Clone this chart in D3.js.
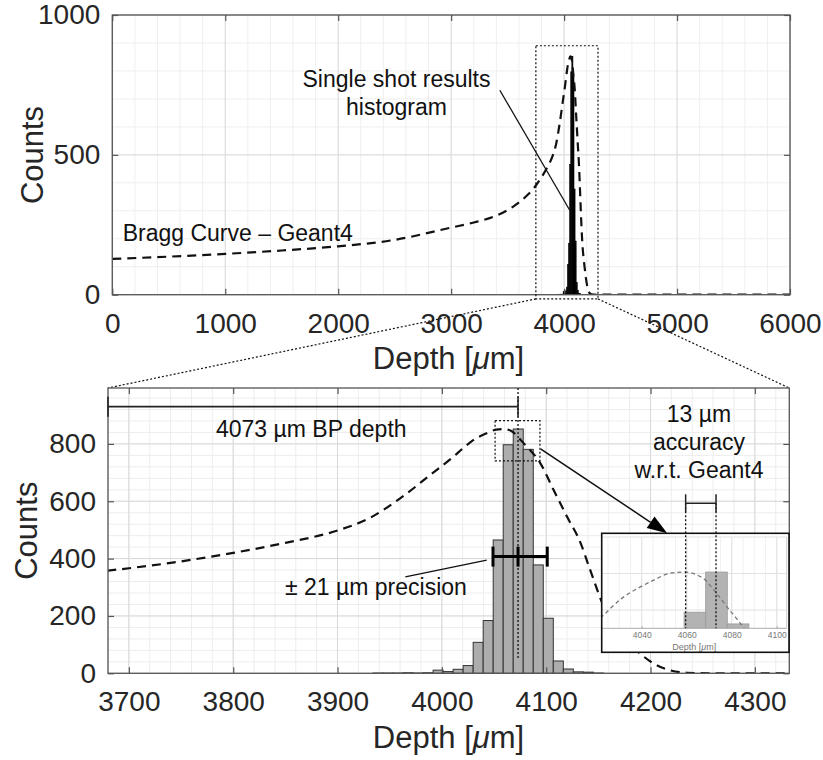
<!DOCTYPE html>
<html><head><meta charset="utf-8">
<script src="https://cdn.jsdelivr.net/npm/d3@7"></script>
<style>
body{margin:0;background:#fff}
svg{display:block}
text{font-family:"Liberation Sans",Arial,Helvetica,sans-serif}
</style>
</head><body>
<svg id="c" width="823" height="760"></svg>
<script>
// ---------------- DATA ----------------
const braggDepth  = [0, 500, 1000, 1500, 2000, 2500, 3000, 3200, 3400, 3550, 3680, 3740, 3800, 3850, 3900, 3930, 3960, 3990, 4010, 4022, 4032, 4039, 4046, 4052, 4059, 4067, 4073, 4079, 4083, 4094, 4107, 4120, 4133, 4141, 4158, 4183, 4209, 4235, 4260, 6000];
const braggCounts = [128, 136, 146, 158, 173, 196, 240, 258, 283, 315, 358, 385, 420, 455, 498, 540, 610, 695, 752, 790, 818, 831, 842, 850, 852, 844, 824, 800, 785, 735, 640, 546, 454, 372, 209, 93, 23, 2, 0, 0];

const histLeft   = [3934.0, 3943.6, 3953.2, 3962.8, 3972.4, 3982.0, 3991.6, 4001.2, 4010.8, 4020.4, 4030.0, 4039.6, 4049.2, 4058.8, 4068.4, 4078.0, 4087.6, 4097.2, 4106.8, 4116.4, 4126.0, 4135.6, 4145.2];
const histCounts = [1, 1, 1, 2, 1, 2, 11, 6, 14, 27, 108, 184, 465, 797, 852, 781, 378, 192, 43, 15, 5, 4, 1];
const binWidth = 9.6;

const topXTicks = [0, 1000, 2000, 3000, 4000, 5000, 6000];
const topYTicks = [0, 500, 1000];
const botXTicks = [3700, 3800, 3900, 4000, 4100, 4200, 4300];
const botYTicks = [0, 200, 400, 600, 800];
const insetXTicks = [4040, 4060, 4080, 4100];

const bpDepth = 4073;            // Bragg peak depth
const precisionRange = [4049, 4101];
const precisionLevel = 407;
const accuracyRange = [4059.5, 4073];

// ---------------- SETUP ----------------
const svg = d3.select("#c");
const FONT = '"Liberation Sans",Arial,Helvetica,sans-serif';
const AX = "#555", TXT = "#262626";

const topX = d3.scaleLinear([0, 6000], [112.3, 790]);
const topY = d3.scaleLinear([0, 1000], [294.7, 15]);
const botX = d3.scaleLinear([3680, 4333], [108, 789.3]);
const botY = d3.scaleLinear([0, 995], [673.3, 388]);
const insX = d3.scaleLinear([4022.2, 4104.4], [601.7, 786.7]);
const insY = d3.scaleLinear([775, 900], [628.3, 537]);

const braggData = braggDepth.map((d, i) => [d, braggCounts[i]]);
const histData = histLeft.map((d, i) => ({x0: d, x1: d + binWidth, c: histCounts[i]}));

const defs = svg.append("defs");
function clip(id, x, y) {
  defs.append("clipPath").attr("id", id).append("rect")
    .attr("x", x.range()[0]).attr("y", y.range()[1])
    .attr("width", x.range()[1] - x.range()[0]).attr("height", y.range()[0] - y.range()[1]);
}
clip("clipTop", topX, topY); clip("clipBot", botX, botY); clip("clipIns", insX, insY);

function grid(g, x, y, xMinor, yMinor, xMajor, yMajor, cMin, cMaj) {
  const [x0, x1] = x.range(), [y1, y0] = y.range();
  g.selectAll(null).data(xMinor).join("line").attr("x1", d => x(d)).attr("x2", d => x(d)).attr("y1", y0).attr("y2", y1).attr("stroke", cMin).attr("stroke-width", 1);
  g.selectAll(null).data(yMinor).join("line").attr("y1", d => y(d)).attr("y2", d => y(d)).attr("x1", x0).attr("x2", x1).attr("stroke", cMin).attr("stroke-width", 1);
  g.selectAll(null).data(xMajor).join("line").attr("x1", d => x(d)).attr("x2", d => x(d)).attr("y1", y0).attr("y2", y1).attr("stroke", cMaj).attr("stroke-width", 1);
  g.selectAll(null).data(yMajor).join("line").attr("y1", d => y(d)).attr("y2", d => y(d)).attr("x1", x0).attr("x2", x1).attr("stroke", cMaj).attr("stroke-width", 1);
}

function axes(x, y, xt, yt) {
  const [x0, x1] = x.range(), [y1, y0] = y.range();
  const g = svg.append("g");
  const styleAx = sel => {
    sel.select(".domain").remove();
    sel.selectAll(".tick line").attr("stroke", AX).attr("stroke-width", 1.2);
    sel.selectAll("text").attr("fill", TXT).style("font-family", FONT).style("font-size", "28px");
  };
  g.append("g").attr("transform", `translate(0,${y1})`)
    .call(d3.axisBottom(x).tickValues(xt).tickFormat(d3.format("d")).tickSizeInner(-6).tickSizeOuter(0).tickPadding(18)).call(styleAx);
  g.append("g").attr("transform", `translate(0,${y0})`)
    .call(d3.axisTop(x).tickValues(xt).tickFormat("").tickSizeInner(-6).tickSizeOuter(0)).call(styleAx);
  g.append("g").attr("transform", `translate(${x0},0)`)
    .call(d3.axisLeft(y).tickValues(yt).tickFormat(d3.format("d")).tickSizeInner(-6).tickSizeOuter(0).tickPadding(12)).call(styleAx);
  g.append("g").attr("transform", `translate(${x1},0)`)
    .call(d3.axisRight(y).tickValues(yt).tickFormat("").tickSizeInner(-6).tickSizeOuter(0)).call(styleAx);
  g.append("rect").attr("x", x0).attr("y", y0).attr("width", x1 - x0).attr("height", y1 - y0)
    .attr("fill", "none").attr("stroke", AX).attr("stroke-width", 1.3);
}

function label(text, x, y, rot) {
  const t = svg.append("text").attr("text-anchor", "middle").attr("fill", TXT)
    .style("font-size", "31px")
    .attr("transform", `translate(${x},${y})` + (rot ? " rotate(-90)" : ""));
  if (text === "depth") {
    t.append("tspan").text("Depth [");
    t.append("tspan").attr("font-style", "italic").text("μ");
    t.append("tspan").text("m]");
  } else t.text(text);
}

function annot(txt, x, y, anchor) {
  svg.append("text").attr("x", x).attr("y", y).attr("text-anchor", anchor || "start")
    .attr("fill", "#111").style("font-size", "23px").text(txt);
}

const line = (x, y) => d3.line().x(d => x(d[0])).y(d => y(d[1])).curve(d3.curveMonotoneX);

// ---------------- TOP PLOT ----------------
grid(svg.append("g"), topX, topY, d3.range(0, 6001, 200), d3.range(0, 1001, 100), topXTicks, topYTicks, "#efefef", "#dcdcdc");
const gTop = svg.append("g").attr("clip-path", "url(#clipTop)");
gTop.selectAll("rect").data(histData).join("rect")
  .attr("x", d => topX(d.x0)).attr("width", d => Math.max(1, topX(d.x1) - topX(d.x0)))
  .attr("y", d => topY(d.c)).attr("height", d => topY(0) - topY(d.c))
  .attr("fill", "#000").attr("stroke", "#000").attr("stroke-width", 0.6);
gTop.append("path").datum(braggData).attr("d", line(topX, topY))
  .attr("fill", "none").attr("stroke", "#111").attr("stroke-width", 2.2).attr("stroke-dasharray", "9,6");
axes(topX, topY, topXTicks, topYTicks);

// zoom box
const zbX = [3750, 4300], zbY = [-15, 890];
svg.append("rect").attr("x", topX(zbX[0])).attr("y", topY(zbY[1]))
  .attr("width", topX(zbX[1]) - topX(zbX[0])).attr("height", topY(zbY[0]) - topY(zbY[1]))
  .attr("fill", "none").attr("stroke", "#111").attr("stroke-width", 1.2).attr("stroke-dasharray", "2,2");

// annotations top
annot("Single shot results", 396.5, 87.3, "middle");
annot("histogram", 396.5, 115, "middle");
annot("Bragg Curve – Geant4", 122.7, 241);
svg.append("line").attr("x1", topX(3431)).attr("y1", topY(731)).attr("x2", topX(4050)).attr("y2", topY(302))
  .attr("stroke", "#111").attr("stroke-width", 1.3);

label("Counts", 43, 155, true);
label("depth", 448.5, 369);

// connectors
svg.append("line").attr("x1", topX(zbX[0])).attr("y1", topY(zbY[0])).attr("x2", botX(3680)).attr("y2", botY(995))
  .attr("stroke", "#111").attr("stroke-width", 1.2).attr("stroke-dasharray", "2,2");
svg.append("line").attr("x1", topX(zbX[1])).attr("y1", topY(zbY[0])).attr("x2", botX(4333)).attr("y2", botY(995))
  .attr("stroke", "#111").attr("stroke-width", 1.2).attr("stroke-dasharray", "2,2");

// ---------------- BOTTOM PLOT ----------------
grid(svg.append("g"), botX, botY, d3.range(3680, 4334, 20), d3.range(0, 996, 40), botXTicks, botYTicks, "#ededed", "#d8d8d8");
const gBot = svg.append("g").attr("clip-path", "url(#clipBot)");
gBot.selectAll("rect").data(histData).join("rect")
  .attr("x", d => botX(d.x0)).attr("width", d => botX(d.x1) - botX(d.x0))
  .attr("y", d => botY(d.c)).attr("height", d => botY(0) - botY(d.c))
  .attr("fill", "#adadad").attr("stroke", "#333").attr("stroke-width", 1);
gBot.append("path").datum(braggData).attr("d", line(botX, botY))
  .attr("fill", "none").attr("stroke", "#111").attr("stroke-width", 2.2).attr("stroke-dasharray", "9,6");
axes(botX, botY, botXTicks, botYTicks);
label("Counts", 37, 530.7, true);
label("depth", 448.5, 748);

// BP depth bracket and dotted line
svg.append("line").attr("x1", botX(bpDepth)).attr("x2", botX(bpDepth)).attr("y1", botY(995)).attr("y2", botY(46))
  .attr("stroke", "#111").attr("stroke-width", 1.3).attr("stroke-dasharray", "2,2");
const bpY = botY(930);
svg.append("line").attr("x1", botX(3680)).attr("x2", botX(bpDepth)).attr("y1", bpY).attr("y2", bpY).attr("stroke", "#222").attr("stroke-width", 1.6);
svg.append("line").attr("x1", botX(3680)).attr("x2", botX(3680)).attr("y1", bpY - 10).attr("y2", bpY + 10).attr("stroke", "#222").attr("stroke-width", 1.6);
svg.append("line").attr("x1", botX(bpDepth)).attr("x2", botX(bpDepth)).attr("y1", bpY - 10).attr("y2", bpY + 10).attr("stroke", "#222").attr("stroke-width", 1.6);
annot("4073 µm BP depth", 216, 436.7);

// precision error bar
const pY = botY(precisionLevel);
svg.append("line").attr("x1", botX(precisionRange[0])).attr("x2", botX(precisionRange[1])).attr("y1", pY).attr("y2", pY).attr("stroke", "#000").attr("stroke-width", 3);
[precisionRange[0], bpDepth, precisionRange[1]].forEach(v =>
  svg.append("line").attr("x1", botX(v)).attr("x2", botX(v)).attr("y1", pY - 10).attr("y2", pY + 10).attr("stroke", "#000").attr("stroke-width", 3));
svg.append("line").attr("x1", botX(3965)).attr("y1", botY(336)).attr("x2", botX(4043)).attr("y2", botY(395)).attr("stroke", "#111").attr("stroke-width", 1.3);
annot("± 21 µm precision", 285, 595);

// peak zoom box
const pbX = [4051, 4094], pbY = [741, 881];
svg.append("rect").attr("x", botX(pbX[0])).attr("y", botY(pbY[1]))
  .attr("width", botX(pbX[1]) - botX(pbX[0])).attr("height", botY(pbY[0]) - botY(pbY[1]))
  .attr("fill", "none").attr("stroke", "#111").attr("stroke-width", 1.2).attr("stroke-dasharray", "2,2");

// arrow
const ax1 = botX(4094.6), ay1 = botY(783), ax2 = botX(4216), ay2 = botY(488);
const ang = Math.atan2(ay2 - ay1, ax2 - ax1), L = 20, Wd = 7;
const bx = ax2 - L * Math.cos(ang), by = ay2 - L * Math.sin(ang);
svg.append("line").attr("x1", ax1).attr("y1", ay1).attr("x2", bx).attr("y2", by).attr("stroke", "#111").attr("stroke-width", 1.5);
svg.append("polygon").attr("points", [
  [ax2, ay2], [bx + Wd * Math.sin(ang), by - Wd * Math.cos(ang)], [bx - Wd * Math.sin(ang), by + Wd * Math.cos(ang)]
].map(p => p.join(",")).join(" ")).attr("fill", "#000");

// accuracy text
annot("13 µm", 699, 421.7, "middle");
annot("accuracy", 699, 450, "middle");
annot("w.r.t. Geant4", 699, 477.7, "middle");

// ---------------- INSET ----------------
const iBox = {x0: insX.range()[0], x1: 789, y0: 533.3, y1: 652.3};
svg.append("rect").attr("x", iBox.x0).attr("y", iBox.y0).attr("width", iBox.x1 - iBox.x0).attr("height", iBox.y1 - iBox.y0).attr("fill", "#fff");
const gi = svg.append("g");
grid(gi, insX, insY, d3.range(4025, 4104, 5), [], insetXTicks, [800, 850, 900], "#f1f1f1", "#e2e2e2");
const gIns = svg.append("g").attr("clip-path", "url(#clipIns)");
gIns.selectAll("rect").data(histData).join("rect")
  .attr("x", d => insX(d.x0)).attr("width", d => insX(d.x1) - insX(d.x0))
  .attr("y", d => insY(d.c)).attr("height", d => Math.max(0, insY(775) - insY(d.c)))
  .attr("fill", "#b3b3b3").attr("stroke", "#999").attr("stroke-width", 0.8);
gIns.append("path").datum(braggData).attr("d", line(insX, insY))
  .attr("fill", "none").attr("stroke", "#777").attr("stroke-width", 1.3).attr("stroke-dasharray", "4,3");
svg.append("line").attr("x1", insX.range()[0]).attr("x2", insX.range()[1]).attr("y1", insY(775)).attr("y2", insY(775)).attr("stroke", "#aaa").attr("stroke-width", 1);
svg.append("line").attr("x1", insX.range()[1]).attr("x2", insX.range()[1]).attr("y1", insY(900)).attr("y2", insY(775)).attr("stroke", "#ccc").attr("stroke-width", 1);
svg.append("g").attr("transform", `translate(0,${insY(775)})`)
  .call(d3.axisBottom(insX).tickValues(insetXTicks).tickFormat(d3.format("d")).tickSizeInner(-2).tickSizeOuter(0).tickPadding(4))
  .call(s => { s.select(".domain").remove(); s.selectAll(".tick line").attr("stroke", "#aaa");
               s.selectAll("text").attr("fill", "#777").style("font-family", FONT).style("font-size", "8.5px"); });
const it = svg.append("text").attr("x", (insX.range()[0] + insX.range()[1]) / 2).attr("y", 650).attr("text-anchor", "middle")
  .attr("fill", "#777").style("font-size", "9px");
it.append("tspan").text("Depth [");
it.append("tspan").attr("font-style", "italic").text("μ");
it.append("tspan").text("m]");
svg.append("rect").attr("x", iBox.x0).attr("y", iBox.y0).attr("width", iBox.x1 - iBox.x0).attr("height", iBox.y1 - iBox.y0)
  .attr("fill", "none").attr("stroke", "#111").attr("stroke-width", 1.6);

// accuracy bracket + dotted lines
const acY = botY(593);
accuracyRange.forEach(v => {
  svg.append("line").attr("x1", insX(v)).attr("x2", insX(v)).attr("y1", acY).attr("y2", insY(775))
    .attr("stroke", "#111").attr("stroke-width", 1.3).attr("stroke-dasharray", "2,2");
  svg.append("line").attr("x1", insX(v)).attr("x2", insX(v)).attr("y1", acY - 9).attr("y2", acY + 9)
    .attr("stroke", "#222").attr("stroke-width", 1.5);
});
svg.append("line").attr("x1", insX(accuracyRange[0])).attr("x2", insX(accuracyRange[1])).attr("y1", acY).attr("y2", acY)
  .attr("stroke", "#222").attr("stroke-width", 1.5);
</script>
</body></html>
